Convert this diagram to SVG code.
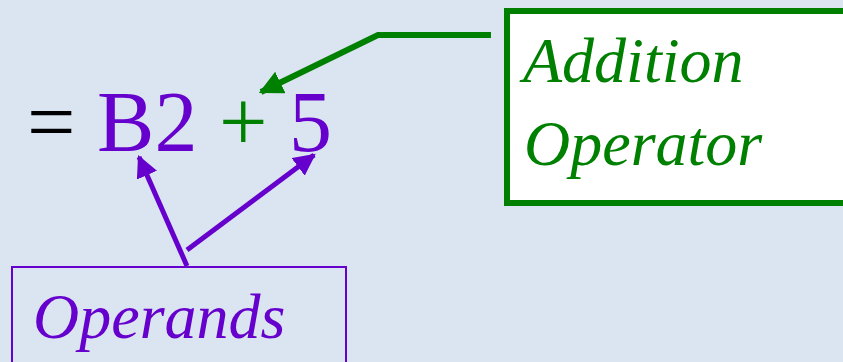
<svg xmlns="http://www.w3.org/2000/svg" width="843" height="362" viewBox="0 0 843 362">
<defs>
<marker id="ag" viewBox="0 0 10 10" refX="9" refY="5" markerWidth="4" markerHeight="4" orient="auto" markerUnits="strokeWidth">
<path d="M0,0 L10,5 L0,10 z" fill="#008000"/>
</marker>
<marker id="ap" viewBox="0 0 10 10" refX="9" refY="5" markerWidth="4.4" markerHeight="4.4" orient="auto" markerUnits="strokeWidth">
<path d="M0,0 L10,5 L0,10 z" fill="#6600cc"/>
</marker>
</defs>
<rect x="0" y="0" width="843" height="362" fill="#dbe5f1"/>
<g id="equation">
<text font-family="Liberation Serif" font-size="86" x="27" y="151"><tspan fill="#000000">=</tspan> <tspan fill="#6600cc">B2</tspan> <tspan fill="#008000">+</tspan> <tspan fill="#6600cc">5</tspan></text>
</g>
<g id="addition-operator">
<rect x="507" y="11" width="400" height="192" fill="#ffffff" stroke="#008000" stroke-width="6"/>
<text font-family="Liberation Serif" font-style="italic" font-size="64" fill="#008000" x="523" y="82">Addition</text>
<text font-family="Liberation Serif" font-style="italic" font-size="64" fill="#008000" x="524" y="165">Operator</text>
</g>
<g id="operands">
<rect x="12" y="267" width="334" height="120" fill="none" stroke="#6600cc" stroke-width="2"/>
<text font-family="Liberation Serif" font-style="italic" font-size="64" fill="#6600cc" x="33" y="338">Operands</text>
</g>
<g id="connectors" fill="none" stroke-linejoin="miter">
<polyline points="491,35 378,35 261,92" stroke="#008000" stroke-width="6" marker-end="url(#ag)"/>
<line x1="187" y1="266" x2="139" y2="157" stroke="#6600cc" stroke-width="5" marker-end="url(#ap)"/>
<line x1="187" y1="250" x2="314" y2="155" stroke="#6600cc" stroke-width="5" marker-end="url(#ap)"/>
</g>
</svg>
